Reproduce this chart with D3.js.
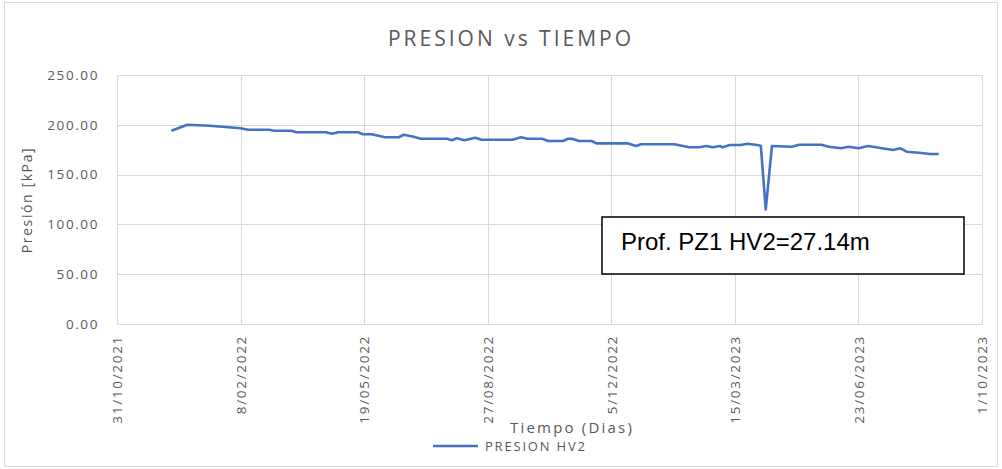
<!DOCTYPE html>
<html>
<head>
<meta charset="utf-8">
<script src="https://cdn.jsdelivr.net/npm/d3@7"></script>
<style>
    body { margin: 0; background: #fff; }
    svg { font-family: "Open Sans", sans-serif; }
</style>
</head>
<body>
<script>
// Datos
var fechas = [
    "2021-12-14", "2021-12-27", "2022-01-14", "2022-02-08", "2022-02-14", "2022-03-03",
    "2022-03-07", "2022-03-21", "2022-03-25", "2022-04-18", "2022-04-23", "2022-04-28",
    "2022-05-14", "2022-05-18", "2022-05-25", "2022-06-05", "2022-06-16", "2022-06-20",
    "2022-06-28", "2022-07-04", "2022-07-25", "2022-07-29", "2022-08-02", "2022-08-08",
    "2022-08-17", "2022-08-22", "2022-09-16", "2022-09-23", "2022-09-28", "2022-10-10",
    "2022-10-15", "2022-10-27", "2022-10-31", "2022-11-03", "2022-11-09", "2022-11-19",
    "2022-11-23", "2022-12-18", "2022-12-25", "2022-12-29", "2023-01-25", "2023-02-06",
    "2023-02-14", "2023-02-20", "2023-02-25", "2023-03-03", "2023-03-05", "2023-03-11",
    "2023-03-20", "2023-03-25", "2023-04-02", "2023-04-05", "2023-04-09", "2023-04-14",
    "2023-04-30", "2023-05-06", "2023-05-24", "2023-05-30", "2023-06-09", "2023-06-15",
    "2023-06-23", "2023-07-01", "2023-07-12", "2023-07-21", "2023-07-27", "2023-08-01",
    "2023-08-11", "2023-08-20", "2023-08-27"
];
var presion = [
    194.0, 200.0, 199.0, 196.5, 195.0, 195.0,
    194.0, 194.0, 192.5, 192.5, 191.0, 192.5,
    192.5, 190.5, 190.5, 187.5, 187.5, 190.0,
    188.0, 186.0, 186.0, 184.5, 186.5, 184.5,
    187.0, 185.0, 185.0, 187.5, 186.0, 186.0,
    183.7, 183.7, 186.0, 186.0, 183.7, 183.7,
    181.4, 181.4, 178.7, 180.4, 180.4, 177.4,
    177.4, 178.7, 177.4, 178.7, 177.4, 179.7,
    179.7, 181.0, 179.7, 179.0, 115.0, 178.7,
    178.0, 180.0, 180.0, 178.0, 176.4, 178.0,
    176.4, 178.7, 176.4, 174.7, 176.4, 173.0,
    172.0, 170.7, 170.7
];
var yTicks = [0, 50, 100, 150, 200, 250];
var xTicks = ["2021-10-31", "2022-02-08", "2022-05-19", "2022-08-27",
              "2022-12-05", "2023-03-15", "2023-06-23", "2023-10-01"];

var titulo = "PRESION vs TIEMPO",
    tituloY = "Presión [kPa]",
    tituloX = "Tiempo (Dias)",
    serie = "PRESION HV2",
    nota = "Prof. PZ1 HV2=27.14m";

function setChart() {
    var width = 1002,
        height = 469;
    var margin = { left: 117, right: 20, top: 75, bottom: 145 };

    var parse = d3.timeParse("%Y-%m-%d"),
        fmt = d3.timeFormat("%-d/%m/%Y");

    var datos = fechas.map(function(f, i) {
        return { fecha: parse(f), valor: presion[i] };
    });
    var ticksX = xTicks.map(parse);

    var svg = d3.select("body")
        .append("svg")
        .attr("width", width)
        .attr("height", height);

    // Borde del grafico
    svg.append("rect")
        .attr("x", 4.5).attr("y", 2.5)
        .attr("width", width - 9).attr("height", height - 5)
        .attr("fill", "#fff")
        .attr("stroke", "#d9d9d9");

    var x = d3.scaleTime()
        .domain([ticksX[0], ticksX[ticksX.length - 1]])
        .range([margin.left, width - margin.right]);

    var y = d3.scaleLinear()
        .domain([0, 250])
        .range([height - margin.bottom, margin.top]);

    // Lineas de rejilla
    svg.append("g")
        .selectAll("line")
        .data(yTicks)
        .enter()
        .append("line")
        .attr("x1", margin.left).attr("x2", width - margin.right)
        .attr("y1", function(d) { return Math.round(y(d)) + 0.5; })
        .attr("y2", function(d) { return Math.round(y(d)) + 0.5; })
        .attr("stroke", "#d9d9d9");

    svg.append("g")
        .selectAll("line")
        .data(ticksX)
        .enter()
        .append("line")
        .attr("x1", function(d) { return Math.round(x(d)) + 0.5; })
        .attr("x2", function(d) { return Math.round(x(d)) + 0.5; })
        .attr("y1", y(250)).attr("y2", y(0))
        .attr("stroke", "#d9d9d9");

    // Eje Y
    var yAxis = svg.append("g")
        .attr("transform", "translate(" + (margin.left - 15) + ",0)")
        .call(d3.axisLeft(y).tickValues(yTicks).tickSize(0).tickFormat(d3.format(".2f")));
    yAxis.select(".domain").remove();
    yAxis.selectAll("text")
        .attr("fill", "#595959")
        .style("font-size", "13.5px")
        .style("letter-spacing", "1.6px")
        .style("font-family", "Open Sans, sans-serif");

    // Eje X
    var xAxis = svg.append("g")
        .attr("transform", "translate(0," + y(0) + ")")
        .call(d3.axisBottom(x).tickValues(ticksX).tickSize(0).tickFormat(fmt));
    xAxis.select(".domain").attr("stroke", "#d9d9d9");
    xAxis.selectAll("text")
        .attr("fill", "#595959")
        .style("font-size", "13.5px")
        .style("letter-spacing", "1.7px")
        .style("font-family", "Open Sans, sans-serif")
        .attr("text-anchor", "end")
        .attr("transform", "rotate(-90)")
        .attr("x", -11)
        .attr("y", 0)
        .attr("dy", "0.35em");

    // Serie
    var linea = d3.line()
        .x(function(d) { return x(d.fecha); })
        .y(function(d) { return y(d.valor); });

    svg.append("path")
        .datum(datos)
        .attr("fill", "none")
        .attr("stroke", "#4472c4")
        .attr("stroke-width", 2.6)
        .attr("stroke-linejoin", "round")
        .attr("d", linea);

    // Titulos
    svg.append("text")
        .attr("x", 511).attr("y", 46)
        .attr("text-anchor", "middle")
        .attr("fill", "#595959")
        .style("font-size", "21px")
        .style("letter-spacing", "3px")
        .text(titulo);

    svg.append("text")
        .attr("transform", "translate(32,200) rotate(-90)")
        .attr("text-anchor", "middle")
        .attr("fill", "#595959")
        .style("font-size", "14px")
        .style("letter-spacing", "1.6px")
        .text(tituloY);

    svg.append("text")
        .attr("x", 572).attr("y", 433)
        .attr("text-anchor", "middle")
        .attr("fill", "#595959")
        .style("font-size", "15px")
        .style("letter-spacing", "2.2px")
        .text(tituloX);

    // Leyenda
    svg.append("line")
        .attr("x1", 433).attr("x2", 478)
        .attr("y1", 446).attr("y2", 446)
        .attr("stroke", "#4472c4")
        .attr("stroke-width", 2.6);
    svg.append("text")
        .attr("x", 485).attr("y", 451)
        .attr("fill", "#595959")
        .style("font-size", "13px")
        .style("letter-spacing", "1.8px")
        .text(serie);

    // Nota
    svg.append("rect")
        .attr("x", 602).attr("y", 217)
        .attr("width", 362).attr("height", 57)
        .attr("fill", "#fff")
        .attr("stroke", "#000")
        .attr("stroke-width", 1.5);
    svg.append("text")
        .attr("x", 621).attr("y", 250)
        .attr("fill", "#000")
        .style("font-family", "Liberation Sans, Arial, sans-serif")
        .style("font-size", "24px")
        .text(nota);
}

setChart();
</script>
</body>
</html>
